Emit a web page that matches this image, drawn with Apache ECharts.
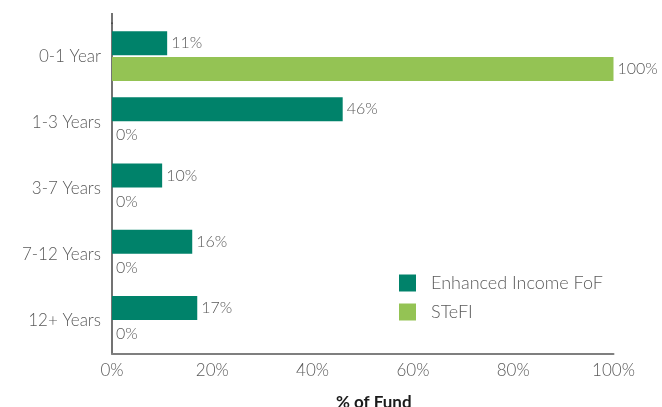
<!DOCTYPE html>
<html><head><meta charset="utf-8">
<script src="https://cdn.jsdelivr.net/npm/echarts@6/dist/echarts.min.js"></script>
<style>html,body{margin:0;padding:0;background:#fff}#c{width:662px;height:407px}</style>
</head><body><div id="c"></div>
<script>
const categories = ['0-1 Year', '1-3 Years', '3-7 Years', '7-12 Years', '12+ Years'];
const seriesNames = ['Enhanced Income FoF', 'STeFI'];
const fofValues = [11, 46, 10, 16, 17];
const stefiValues = [100, 0, 0, 0, 0];
const xTicks = [0, 20, 40, 60, 80, 100];
const colors = ['#00826a', '#94c354'];

const FONT = 'Lato, "Open Sans", sans-serif';
const chart = echarts.init(document.getElementById('c'), null, {renderer: 'canvas'});
const labelCfg = {
  show: true, position: 'right', distance: 4,
  formatter: p => p.value + '%',
  color: '#5a5a5a', fontFamily: FONT, fontSize: 16, fontWeight: 300
};
chart.setOption({
  animation: false,
  textStyle: {fontFamily: FONT},
  grid: {left: 112, right: 48.5, top: 23, bottom: 53, containLabel: false, outerBoundsMode: 'none'},
  legend: {
    orient: 'vertical', left: 394, top: 269, itemWidth: 17, itemHeight: 17, itemGap: 11,
    icon: 'rect',
    textStyle: {color: '#5a5a5a', fontSize: 18, fontFamily: FONT, fontWeight: 300, padding: [0,0,0,10]},
    data: seriesNames
  },
  xAxis: {
    type: 'value', min: xTicks[0], max: xTicks[xTicks.length-1], interval: 20,
    name: '% of Fund', nameLocation: 'middle', nameGap: 40,
    nameTextStyle: {color: '#1a1a1a', fontSize: 17, fontWeight: 'bold', fontFamily: FONT, padding: [0,0,0,22]},
    axisLine: {show: true, lineStyle: {color: '#7f7f7f', width: 2}},
    axisTick: {show: false},
    splitLine: {show: false},
    axisLabel: {formatter: v => v + '%', color: '#5a5a5a', fontSize: 17, fontWeight: 300, margin: 8, fontFamily: FONT}
  },
  yAxis: {
    type: 'category', data: categories, inverse: true,
    axisLine: {show: true, lineStyle: {color: '#444', width: 1.5}},
    axisTick: {show: false},
    axisLabel: {color: '#5a5a5a', fontSize: 17, fontWeight: 300, margin: 11, fontFamily: FONT, padding: [5,0,0,0]}
  },
  graphic: [{
    type: 'line', shape: {x1: 112, y1: 13, x2: 112, y2: 24},
    style: {stroke: '#444', lineWidth: 1.5}, silent: true
  }],
  series: [
    {name: seriesNames[0], type: 'bar', data: fofValues, barWidth: 24, barGap: '8%',
     itemStyle: {color: colors[0]}, label: labelCfg},
    {name: seriesNames[1], type: 'bar', data: stefiValues, barWidth: 24,
     itemStyle: {color: colors[1]}, label: labelCfg}
  ]
});
</script></body></html>
